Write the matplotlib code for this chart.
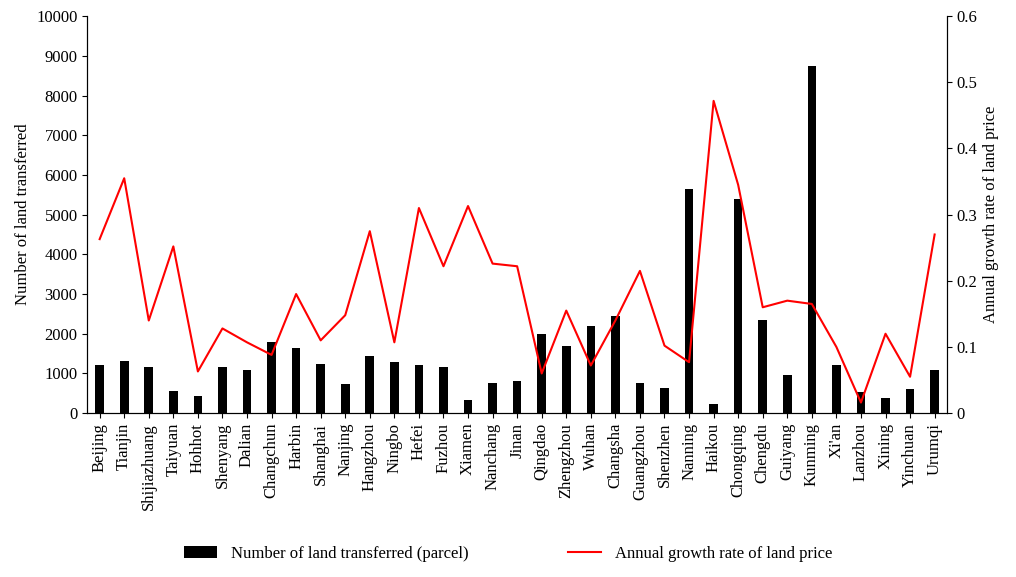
import matplotlib.pyplot as plt
import numpy as np

plt.rcParams['font.family'] = ['Liberation Serif', 'DejaVu Serif']

cities = ['Beijing', 'Tianjin', 'Shijiazhuang', 'Taiyuan', 'Hohhot', 'Shenyang', 'Dalian',
          'Changchun', 'Harbin', 'Shanghai', 'Nanjing', 'Hangzhou', 'Ningbo', 'Hefei',
          'Fuzhou', 'Xiamen', 'Nanchang', 'Jinan', 'Qingdao', 'Zhengzhou', 'Wuhan',
          'Changsha', 'Guangzhou', 'Shenzhen', 'Nanning', 'Haikou', 'Chongqing', 'Chengdu',
          'Guiyang', 'Kunming', "Xi'an", 'Lanzhou', 'Xining', 'Yinchuan', 'Urumqi']
parcels = [1200, 1320, 1150, 560, 420, 1150, 1080, 1780, 1650, 1250, 730, 1450, 1280, 1200,
           1170, 330, 760, 820, 2000, 1700, 2200, 2450, 760, 640, 5650, 220, 5400, 2350,
           970, 8750, 1200, 530, 370, 620, 1080]
growth = [0.263, 0.355, 0.14, 0.252, 0.063, 0.128, 0.107, 0.088, 0.18, 0.11, 0.148, 0.275,
          0.107, 0.31, 0.222, 0.313, 0.226, 0.222, 0.06, 0.155, 0.072, 0.14, 0.215, 0.102,
          0.077, 0.472, 0.345, 0.16, 0.17, 0.165, 0.1, 0.016, 0.12, 0.055, 0.27]

x = np.arange(len(cities))
fig, ax = plt.subplots(figsize=(10.16, 5.77), dpi=100)
fig.subplots_adjust(left=0.086, right=0.932, top=0.972, bottom=0.284)

b = ax.bar(x, parcels, width=0.35, color='black', label='Number of land transferred (parcel)')
ax.set_ylim(0, 10000)
ax.set_yticks(range(0, 10001, 1000))
ax.set_xlim(-0.5, len(cities) - 0.5)
ax.set_xticks(x)
ax.set_xticklabels(cities, rotation=90, fontsize=12)
ax.tick_params(axis='y', labelsize=12)
ax.set_ylabel('Number of land transferred', fontsize=12)
ax.spines['top'].set_visible(False)

ax2 = ax.twinx()
l, = ax2.plot(x, growth, color='red', lw=1.5, label='Annual growth rate of land price')
ax2.set_ylim(0, 0.6)
ax2.set_yticks(np.arange(0, 0.61, 0.1))
ax2.set_yticklabels(['0', '0.1', '0.2', '0.3', '0.4', '0.5', '0.6'])
ax2.tick_params(axis='y', labelsize=12)
ax2.set_ylabel('Annual growth rate of land price', fontsize=12)
ax2.spines['top'].set_visible(False)

fig.legend([b, l], [b.get_label(), l.get_label()], loc='lower center', ncol=2,
           frameon=False, fontsize=12, bbox_to_anchor=(0.5, 0.0), columnspacing=6)

plt.savefig('out.png')
